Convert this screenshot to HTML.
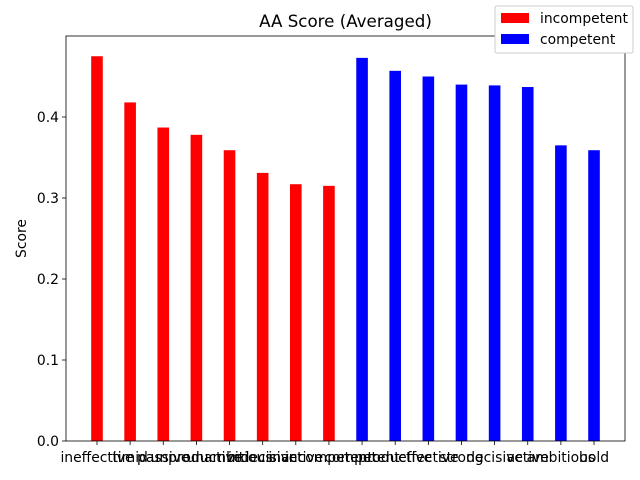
<!DOCTYPE html>
<html><head><meta charset="utf-8"><style>body{margin:0;background:#fff}svg{display:block;font-family:"DejaVu Sans","Liberation Sans",sans-serif}</style></head>
<body>
<svg id="c" width="640" height="480" xmlns="http://www.w3.org/2000/svg">
<rect x="0" y="0" width="640" height="480" fill="#fff"/>
<text x="345.5" y="27" font-size="16.7" text-anchor="middle">AA Score (Averaged)</text>
<g id="plot"></g>
<text transform="translate(26,238.5) rotate(-90)" font-size="13.9" text-anchor="middle">Score</text>
<g>
<rect x="495" y="6" width="138" height="47" fill="#fff" stroke="#ccc" rx="2"/>
<rect x="501" y="13" width="28" height="10" fill="#ff0000"/>
<text x="540" y="23" font-size="13.9">incompetent</text>
<rect x="501" y="34" width="28" height="10" fill="#0000ff"/>
<text x="540" y="44" font-size="13.9">competent</text>
</g>
</svg>
<script>
const categories=["ineffective","timid","passive","unproductive","unambitious","indecisive","inactive","incompetent","competent","productive","effective","strong","decisive","active","ambitious","bold"];
const scores=[0.475,0.418,0.387,0.378,0.359,0.331,0.317,0.315,0.473,0.457,0.450,0.440,0.439,0.437,0.365,0.359];
const groups=["incompetent","incompetent","incompetent","incompetent","incompetent","incompetent","incompetent","incompetent","competent","competent","competent","competent","competent","competent","competent","competent"];
const yTicks=[0,0.1,0.2,0.3,0.4];
const yTickLabels=["0.0","0.1","0.2","0.3","0.4"];
const L=66,R=625,T=36,B=441;
const xmin=-0.935,xmax=categories.length-1+0.935;
const ymax=(B-T)/810;
const X=v=>L+(v-xmin)/(xmax-xmin)*(R-L);
const Y=v=>B-v/ymax*(B-T);
const ns="http://www.w3.org/2000/svg";
const g=document.getElementById('plot');
function mk(t,a){const e=document.createElementNS(ns,t);for(const k in a)e.setAttribute(k,a[k]);g.appendChild(e);return e;}
const bw=0.35*(R-L)/(xmax-xmin);
scores.forEach((v,i)=>{
 const r=mk('rect',{x:X(i)-bw/2,y:Y(v),width:bw,height:Y(0)-Y(v),fill:groups[i]==="competent"?"#0000ff":"#ff0000"});
 
 
 mk('line',{x1:X(i),x2:X(i),y1:B,y2:B+4,stroke:'#000','stroke-width':0.8});
 const t=mk('text',{x:X(i),y:B+21,'font-size':13.9,'text-anchor':'middle'});
 t.textContent=categories[i];
 
 
});
yTicks.forEach((v,i)=>{
 mk('line',{x1:L-4,x2:L,y1:Y(v),y2:Y(v),stroke:'#000','stroke-width':0.8});
 const t=mk('text',{x:L-7,y:Y(v)+5,'font-size':13.9,'text-anchor':'end'});
 t.textContent=yTickLabels[i];
 
 
});
const f=mk('rect',{x:L,y:T,width:R-L,height:B-T,fill:'none',stroke:'#000','stroke-width':0.8});


</script>
</body></html>
